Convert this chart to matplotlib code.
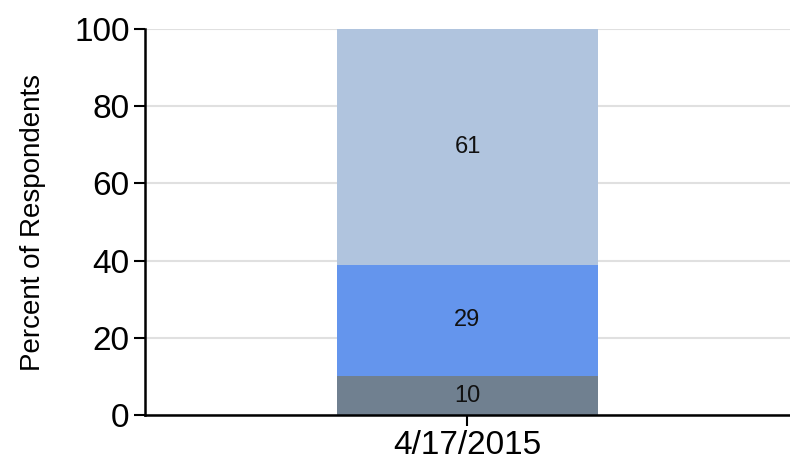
import numpy as np
import matplotlib
matplotlib.use("Agg")
import matplotlib.pyplot as plt

plt.rcParams['font.family'] = ['Liberation Sans', 'DejaVu Sans']

category = ["4/17/2015"]
bottom_vals = [10]
middle_vals = [29]
top_vals = [61]
colors = ["#708090", "#6495ED", "#B0C4DE"]

fig = plt.figure(figsize=(7.9, 4.69), dpi=100)
ax = fig.add_axes([0.1835, 0.115, 0.8165, 0.823])

x = np.arange(len(category))
base = np.zeros(len(category))
for vals, c in zip([bottom_vals, middle_vals, top_vals], colors):
    v = np.array(vals)
    ax.bar(x, v, bottom=base, width=0.406, color=c, zorder=2)
    for xi, b, vi in zip(x, base, v):
        ax.text(xi, b + vi / 2, str(vi), ha="center", va="center", fontsize=17, color="#111111", zorder=3)
    base = base + v

ax.set_xlim(-0.5, 0.5)
ax.set_ylim(0, 100)
ax.set_yticks([0, 20, 40, 60, 80, 100])
ax.set_xticks(x)
ax.set_xticklabels(category)
ax.tick_params(axis="both", labelsize=24, length=8, width=1.5, direction="out", colors="black", pad=3)
ax.yaxis.grid(True, color="#e0e0e0", linewidth=1.5, zorder=0)
ax.set_axisbelow(True)
for s in ["top", "right"]:
    ax.spines[s].set_visible(False)
for s in ["left", "bottom"]:
    ax.spines[s].set_linewidth(1.8)
ax.set_ylabel("Percent of Respondents", fontsize=20, labelpad=20)

fig.savefig("out.png", dpi=100)
